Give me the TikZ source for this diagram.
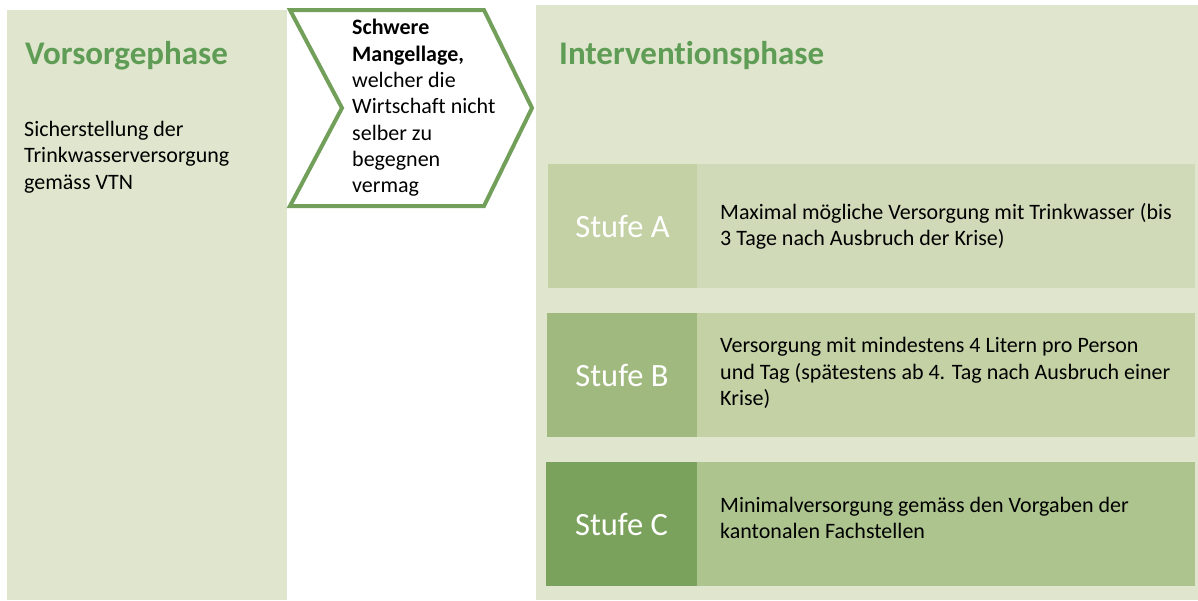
\documentclass[tikz,border=0pt]{standalone}
\usepackage{fontspec}
\setmainfont{Carlito}[Ligatures={NoCommon}]
\usetikzlibrary{positioning}
\definecolor{panelbg}{HTML}{DFE6CD}
\definecolor{titlegreen}{HTML}{5F9C55}
\definecolor{chevgreen}{HTML}{72A05A}
\definecolor{labelA}{HTML}{C3D1A5}
\definecolor{rowA}{HTML}{D0DAB8}
\definecolor{labelB}{HTML}{A0B97E}
\definecolor{rowB}{HTML}{C3D1A5}
\definecolor{labelC}{HTML}{7AA25C}
\definecolor{rowC}{HTML}{AEC48E}
\tikzset{
  phasetitle/.style={anchor=base west,inner sep=0,text=titlegreen,
    font=\fontsize{33}{38}\selectfont\bfseries},
  bodytext/.style={anchor=west,inner sep=0,align=left,
    font=\fontsize{22}{26.3}\selectfont},
  stufelabel/.style={inner sep=0,text=white,font=\fontsize{32.5}{38}\selectfont},
}
\begin{document}
\begin{tikzpicture}[x=1pt,y=-1pt]
\useasboundingbox (0,0) rectangle (1198,600);
% Vorsorgephase
\fill[panelbg] (7,10) rectangle (287,600);
\node[phasetitle] (vorsorge) at (25,64) {Vorsorgephase};
\node[bodytext] (vorsorgetext) at (24,157) {Sicherstellung der\\Trinkwasserversorgung\\gemäss VTN};
% chevron
\draw[line width=4pt,chevgreen,fill=white] (290,10) -- (484,10) -- (532,108) -- (484,206) -- (290,206) -- (342,108) -- cycle;
\node[bodytext] (mangellage) at (352,108) {\textbf{Schwere}\\\textbf{Mangellage,}\\welcher die\\Wirtschaft nicht\\selber zu\\begegnen\\vermag};
% Interventionsphase
\fill[panelbg] (536,5) rectangle (1198,600);
\node[phasetitle] (intervention) at (559,64) {Interventionsphase};
% Stufe A
\fill[rowA] (697,164) rectangle (1195,288);
\fill[labelA] (548,164) rectangle (697,288);
\node[stufelabel] (stufeA) at (622.5,226) {Stufe A};
\node[bodytext] (textA) at (720,226) {Maximal mögliche Versorgung mit Trinkwasser (bis\\3 Tage nach Ausbruch der Krise)};
% Stufe B
\fill[rowB] (697,313) rectangle (1195,437);
\fill[labelB] (547,313) rectangle (697,437);
\node[stufelabel] (stufeB) at (622,375) {Stufe B};
\node[bodytext] (textB) at (720,373) {Versorgung mit mindestens 4 Litern pro Person\\und Tag (spätestens ab 4. Tag nach Ausbruch einer\\Krise)};
% Stufe C
\fill[rowC] (697,462) rectangle (1195,586);
\fill[labelC] (546,462) rectangle (697,586);
\node[stufelabel] (stufeC) at (621.5,524) {Stufe C};
\node[bodytext] (textC) at (720,518) {Minimalversorgung gemäss den Vorgaben der\\kantonalen Fachstellen};
\end{tikzpicture}
\end{document}
